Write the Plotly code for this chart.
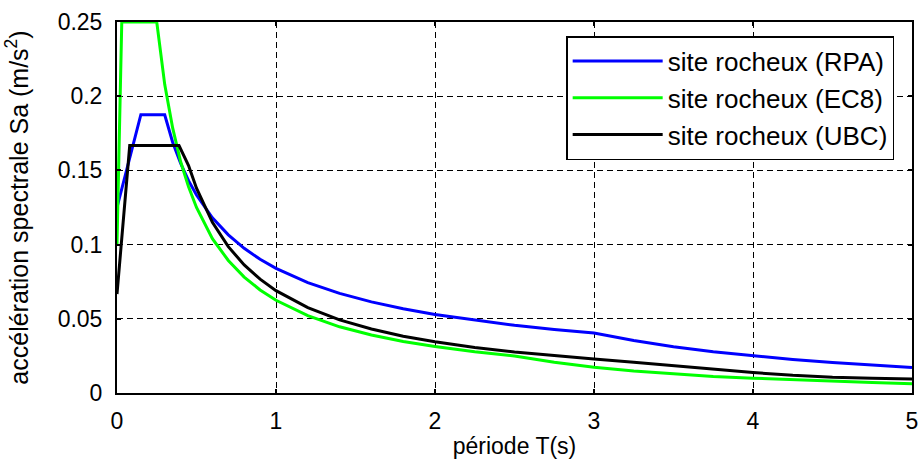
import plotly.graph_objects as go

# ---- data ----
T_rpa = [0, 0.15, 0.3, 0.35, 0.4, 0.45, 0.5, 0.6, 0.7, 0.8, 0.9, 1.0, 1.2, 1.4, 1.6, 1.8,
         2.0, 2.25, 2.5, 2.75, 3.0, 3.25, 3.5, 3.75, 4.0, 4.25, 4.5, 4.75, 5.0]
Sa_rpa = [0.125, 0.1875, 0.1875, 0.169, 0.1548, 0.1431, 0.1334, 0.1181, 0.1066, 0.0975, 0.0901,
          0.0840, 0.0744, 0.0671, 0.0614, 0.0568, 0.0529, 0.0490, 0.0456, 0.0428, 0.0404,
          0.0354, 0.0312, 0.0278, 0.0250, 0.0226, 0.0205, 0.0188, 0.0172]

T_ec8 = [0, 0.03, 0.25, 0.3, 0.35, 0.4, 0.45, 0.5, 0.6, 0.7, 0.8, 0.9, 1.0, 1.2, 1.4, 1.6, 1.8,
         2.0, 2.25, 2.5, 2.75, 3.0, 3.25, 3.5, 3.75, 4.0, 4.25, 4.5, 4.75, 5.0]
Sa_ec8 = [0.1, 0.25, 0.25, 0.208, 0.1786, 0.156, 0.139, 0.125, 0.104, 0.0893, 0.0781, 0.0694,
          0.0625, 0.0521, 0.0446, 0.0391, 0.0347, 0.0313, 0.0278, 0.025, 0.0207, 0.0174,
          0.0148, 0.0128, 0.0111, 0.0100, 0.0089, 0.0079, 0.0070, 0.0063]

T_ubc = [0, 0.04, 0.08, 0.39, 0.45, 0.5, 0.6, 0.7, 0.8, 0.9, 1.0, 1.2, 1.4, 1.6, 1.8,
         2.0, 2.25, 2.5, 2.75, 3.0, 3.25, 3.5, 3.75, 4.0, 4.25, 4.5, 4.75, 5.0]
Sa_ubc = [0.0667, 0.1167, 0.1667, 0.1667, 0.1533, 0.138, 0.115, 0.0986, 0.0863, 0.0767, 0.069,
          0.0575, 0.0493, 0.0431, 0.0383, 0.0345, 0.0307, 0.0276, 0.0251, 0.0229, 0.0208,
          0.0185, 0.0160, 0.0138, 0.0119, 0.0106, 0.0099, 0.0094]

names = ["site rocheux (RPA)", "site rocheux (EC8)", "site rocheux (UBC)"]
colors = ["#0000ff", "#00ff00", "#000000"]

x_ticks = [0, 1, 2, 3, 4, 5]
y_ticks = [0, 0.05, 0.1, 0.15, 0.2, 0.25]
y_ticklabels = ["0", "0.05", "0.1", "0.15", "0.2", "0.25"]

FONT = "Liberation Sans, Arial, sans-serif"

fig = go.Figure()
for i, (tx, sy) in enumerate([(T_rpa, Sa_rpa), (T_ec8, Sa_ec8), (T_ubc, Sa_ubc)]):
    fig.add_trace(go.Scatter(x=tx, y=sy, mode="lines", name=names[i],
                             legendgroup="g%d" % i,
                             line=dict(color=colors[i], width=3)))

axis_common = dict(showline=True, linecolor="black", linewidth=2, mirror="ticks",
                   ticks="inside", ticklen=4, tickwidth=2, tickcolor="black",
                   showgrid=True, gridcolor="black", gridwidth=1.4, griddash="6px,4px",
                   zeroline=False, tickfont=dict(family=FONT, size=23, color="black"))

fig.update_xaxes(range=[0, 5], tickvals=x_ticks, ticklabelstandoff=6,
                 title=dict(text="période T(s)", font=dict(family=FONT, size=23, color="black"),
                            standoff=5),
                 **axis_common)
fig.update_yaxes(range=[0, 0.25], tickvals=y_ticks, ticktext=y_ticklabels, ticklabelstandoff=8,
                 title=dict(text="accélération spectrale Sa (m/s<sup>2</sup>)",
                            font=dict(family=FONT, size=25, color="black"), standoff=22),
                 **axis_common)

fig.update_layout(
    width=922, height=464,
    margin=dict(l=117, r=10, t=22, b=71, autoexpand=False),
    plot_bgcolor="white", paper_bgcolor="white",
    showlegend=True,
    legend=dict(x=0.565, y=0.962, xanchor="left", yanchor="top",
                bgcolor="white", bordercolor="black", borderwidth=1.5,
                font=dict(family=FONT, size=26, color="black"),
                tracegroupgap=0, itemwidth=90),
)

fig.write_html("out.html")
